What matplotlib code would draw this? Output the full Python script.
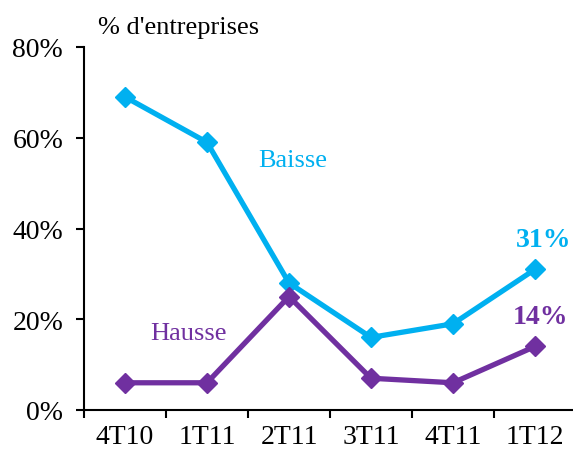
import matplotlib
matplotlib.use('Agg')
import matplotlib.pyplot as plt
from matplotlib.ticker import FixedLocator, NullFormatter

categories = ['4T10', '1T11', '2T11', '3T11', '4T11', '1T12']
baisse = [69, 59, 28, 16, 19, 31]
hausse = [6, 6, 25, 7, 6, 14]
yticks = [0, 20, 40, 60, 80]

plt.rcParams['font.family'] = ['Liberation Serif', 'DejaVu Serif']

cyan = '#00B0F0'
purple = '#7030A0'

fig = plt.figure(figsize=(5.73, 4.52), dpi=100)
ax = fig.add_axes([84 / 573, 41 / 452, 492 / 573, 363 / 452])

x = list(range(len(categories)))
ax.plot(x, baisse, color=cyan, lw=3.8, marker='D', ms=10, clip_on=False)
ax.plot(x, hausse, color=purple, lw=3.8, marker='D', ms=10, clip_on=False)

ax.set_xlim(-0.5, len(categories) - 0.5)
ax.set_ylim(0, 80)
ax.set_yticks(yticks)
ax.set_yticklabels([f'{v}%' for v in yticks], fontsize=20)
ax.set_xticks(x)
ax.set_xticklabels(categories, fontsize=20)
ax.tick_params(axis='x', length=0, pad=10)
ax.xaxis.set_minor_locator(FixedLocator([i - 0.5 for i in range(len(categories) + 1)]))
ax.xaxis.set_minor_formatter(NullFormatter())
ax.tick_params(axis='x', which='minor', direction='out', length=6, width=1.5)
ax.tick_params(axis='y', direction='out', length=6, width=1.5, pad=9)

for s in ['top', 'right']:
    ax.spines[s].set_visible(False)
for s in ['left', 'bottom']:
    ax.spines[s].set_linewidth(1.5)

ax.text(2.05, 55, 'Baisse', color=cyan, fontsize=19, ha='center', va='center')
ax.text(0.77, 17, 'Hausse', color=purple, fontsize=19, ha='center', va='center')
ax.text(5.1, 37.5, '31%', color=cyan, fontsize=20, fontweight='bold', ha='center', va='center')
ax.text(5.07, 20.5, '14%', color=purple, fontsize=20, fontweight='bold', ha='center', va='center')
ax.text(-0.33, 84.4, "% d'entreprises", fontsize=19, ha='left', va='center', clip_on=False)

fig.savefig('out.png', dpi=100)
